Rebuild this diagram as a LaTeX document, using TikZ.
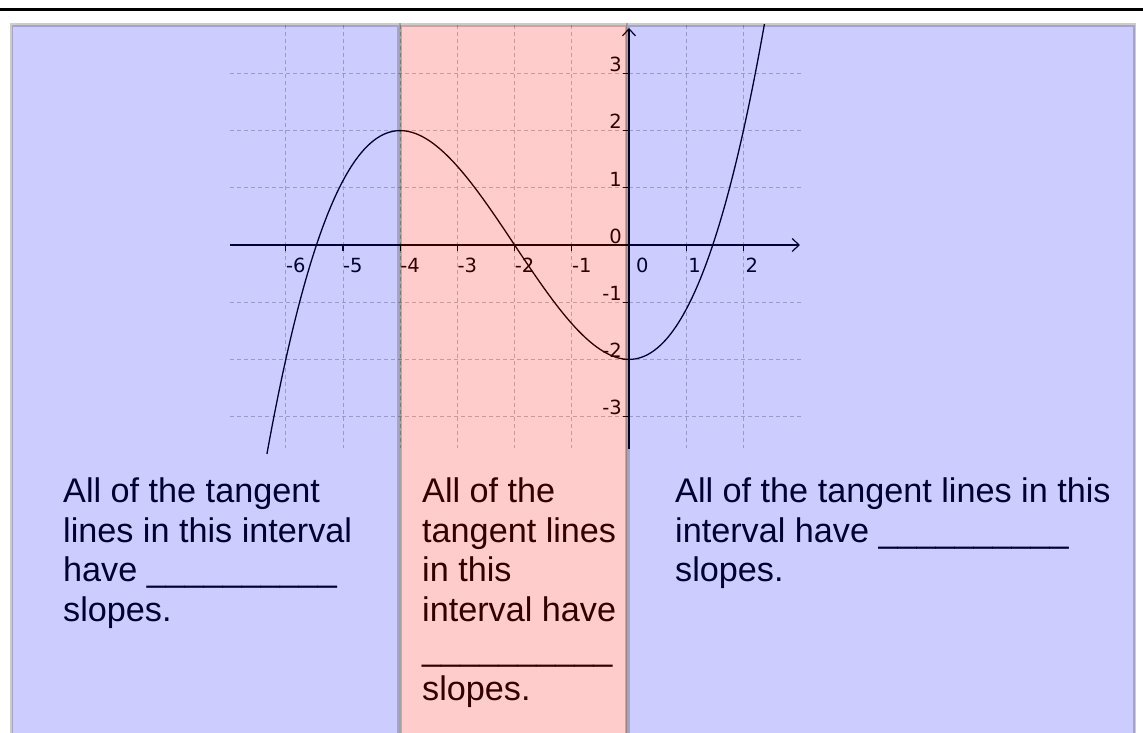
\documentclass[tikz,border=0pt]{standalone}
\usepackage{fontspec}
\setmainfont{Liberation Sans}
\newfontfamily\labelfont{DejaVu Sans}
\usetikzlibrary{arrows.meta}
\definecolor{gridc}{RGB}{192,192,192}
\definecolor{bluepanel}{RGB}{0,0,255}
\definecolor{redpanel}{RGB}{255,0,0}
\begin{document}
\begin{tikzpicture}[x=1pt,y=-1pt,
  gridline/.style={gridc, line width=1pt, dash pattern=on 4pt off 3pt},
  axisline/.style={black, line width=1.2pt},
  axisarrow/.style={axisline, -{Straight Barb[length=7pt,width=13pt,line width=1.2pt]}},
  curveline/.style={black, line width=1.3pt},
  ticklab/.style={font=\labelfont\fontsize{19.5}{22}\selectfont, inner sep=0pt},
  para/.style={font=\fontsize{34.2}{39.5}\selectfont, align=left, inner sep=0pt, anchor=north west},
  panelblue/.style={fill=bluepanel, fill opacity=0.2, draw=black, draw opacity=0.2, line width=3.5pt},
  panelred/.style={fill=redpanel, fill opacity=0.2, draw=black, draw opacity=0.2, line width=3.5pt}]
\useasboundingbox (0,0) rectangle (1143,733);
\clip (0,0) rectangle (1143,733);
% top rule
\draw[black, line width=3pt] (0,10) -- (1143,10);
% grid
\begin{scope}
  \clip (230,25) rectangle (803,449);
  \foreach \i in {-6,-5,-4,-3,-2,-1,1,2}
    \draw[gridline] ({629+57.2*\i},25) -- ({629+57.2*\i},448);
  \foreach \j in {-3,-2,-1,1,2,3}
    \draw[gridline] (230,{245-57.2*\j}) -- (802,{245-57.2*\j});
\end{scope}
% axes
\draw[axisarrow] (230,245) -- (800,245);
\draw[axisarrow] (629,449) -- (629,28);
% ticks
\foreach \i in {-6,-5,-4,-3,-2,-1,1,2}
  \draw[axisline] ({629+57.2*\i},245) -- ({629+57.2*\i},251);
\foreach \j in {-3,-2,-1,1,2,3}
  \draw[axisline] (629,{245-57.2*\j}) -- (623,{245-57.2*\j});
% x labels
\foreach \i in {-6,-5,-4,-3,-2,-1}
  \node[ticklab, anchor=north west] (xl\i) at ({629+57.2*\i},258) {\i};
\node[ticklab, anchor=north west] (xl0) at (636,258) {0};
\foreach \i in {1,2}
  \node[ticklab, anchor=north west] (xl\i) at ({631+57.2*\i},258) {\i};
% y labels
\foreach \j in {-3,-2,-1,0,1,2,3}
  \node[ticklab, anchor=south east] (yl\j) at (622,{243.5-57.2*\j}) {\j};
% curve
\begin{scope}
  \clip (230,25) rectangle (803,460);
  \draw[curveline] plot[domain=-6.33:2.42, samples=160, smooth]
    ({629+57.2*\x},{245-57.2*((\x+2)*(\x+2)*(\x+2)/8-1.5*(\x+2))});
\end{scope}
% texts
\node[para] (tleft) at (63,477.6) {All of the tangent\\lines in this interval\\have \_\_\_\_\_\_\_\_\_\_\\slopes.};
\node[para] (tmid) at (422,477.6) {All of the\\tangent lines\\in this\\interval have\\\_\_\_\_\_\_\_\_\_\_\\slopes.};
\node[para] (tright) at (675,477.6) {All of the tangent lines in this\\interval have \_\_\_\_\_\_\_\_\_\_\\slopes.};
% translucent panels
\path[panelblue] (11.5,25) rectangle (399,760);
\path[panelred] (400.5,25) rectangle (626.5,760);
\path[panelblue] (628,25) rectangle (1134.7,760);
\end{tikzpicture}
\end{document}
